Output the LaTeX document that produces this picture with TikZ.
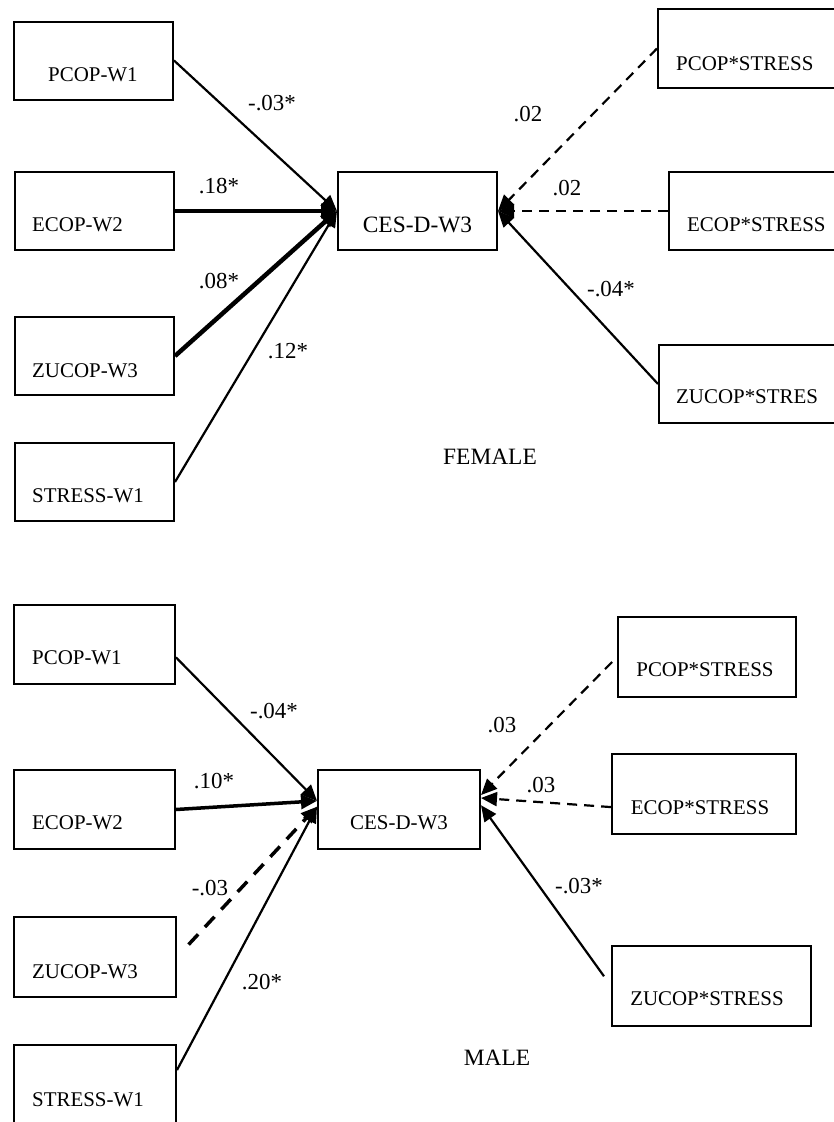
\documentclass[tikz,border=0pt]{standalone}
\usepackage{fontspec}
\setmainfont{Liberation Serif}
\usetikzlibrary{arrows.meta,calc}

\begin{document}
\begin{tikzpicture}[x=1bp,y=-1bp,
  box/.style={draw,line width=2bp,inner sep=0pt,minimum height=78bp},
  vname/.style={font=\fontsize{21}{24}\selectfont,inner sep=0pt},
  coef/.style={font=\fontsize{23}{26}\selectfont,inner sep=0pt},
  group/.style={font=\fontsize{23.5}{27}\selectfont,inner sep=0pt},
  link/.style={line width=2.2bp,-{Triangle[length=16bp,width=14bp]}},
  strong/.style={line width=4.5bp},
  medium/.style={line width=3.5bp},
  dashlink/.style={dash pattern=on 10bp off 7bp},
  bigdash/.style={dash pattern=on 14bp off 10bp}
]
\useasboundingbox (0,0) rectangle (834,1122);
\clip (0,0) rectangle (834,1122);

% ---------------- Female model ----------------
\node[box,minimum width=159bp] (fP) at (93.5,60.5) {};
\node[box,minimum width=159bp] (fE) at (94.5,211) {};
\node[box,minimum width=159bp] (fZ) at (94.5,356) {};
\node[box,minimum width=159bp] (fS) at (94.5,482) {};
\node[box,minimum width=159bp] (fC) at (417.5,211) {};
\node[box,minimum width=180bp,minimum height=79bp] (fPS) at (748,48.5) {};
\node[box,minimum width=180bp] (fES) at (759,211) {};
\node[box,minimum width=180bp] (fZS) at (749,384) {};

\node[vname,anchor=west] (fPt) at (48,75) {PCOP-W1};
\node[vname,anchor=west] (fEt) at (32,225) {ECOP-W2};
\node[vname,anchor=west] (fZt) at (32,371) {ZUCOP-W3};
\node[vname,anchor=west] (fSt) at (32,496) {STRESS-W1};
\node[font=\fontsize{23.5}{27}\selectfont,inner sep=0pt] (fCt) at (417.5,225) {CES-D-W3};
\node[vname,anchor=west] (fPSt) at (676,64) {PCOP*STRESS};
\node[vname,anchor=west] (fESt) at (687,225) {ECOP*STRESS};
\node[vname,anchor=west] (fZSt) at (676,397) {ZUCOP*STRES};

\draw[link] (fP.east) -- (fC.west);
\draw[link,strong] (fE.east) -- (fC.west);
\draw[link,strong] (fZ.east) -- (fC.west);
\draw[link] (fS.east) -- (fC.west);
\draw[link,dashlink] (fPS.west) -- (fC.east);
\draw[link,dashlink] (fES.west) -- (fC.east);
\draw[link] (fZS.west) -- (fC.east);

\node[coef] (fc1) at (272,103) {-.03*};
\node[coef] (fc2) at (219,186) {.18*};
\node[coef] (fc3) at (219,281) {.08*};
\node[coef] (fc4) at (288,351) {.12*};
\node[coef] (fc5) at (528,114) {.02};
\node[coef] (fc6) at (567,188) {.02};
\node[coef] (fc7) at (611,289) {-.04*};
\node[group] (female) at (490,457) {FEMALE};

% ---------------- Male model ----------------
\node[box,minimum width=161bp,minimum height=79bp] (mP) at (94.5,644.5) {};
\node[box,minimum width=161bp,minimum height=79bp] (mE) at (94.5,809.5) {};
\node[box,minimum width=162bp,minimum height=80bp] (mZ) at (95,957) {};
\node[box,minimum width=162bp,minimum height=79bp] (mS) at (95,1084.5) {};
\node[box,minimum width=162bp,minimum height=79bp] (mC) at (399,809.5) {};
\node[box,minimum width=178bp,minimum height=80bp] (mPS) at (707,657) {};
\node[box,minimum width=184bp,minimum height=80bp] (mES) at (704,794) {};
\node[box,minimum width=199bp,minimum height=80bp] (mZS) at (711.5,986) {};

\node[vname,anchor=west] (mPt) at (32,658) {PCOP-W1};
\node[vname,anchor=west] (mEt) at (32,823) {ECOP-W2};
\node[vname,anchor=west] (mZt) at (32,972) {ZUCOP-W3};
\node[vname,anchor=west] (mSt) at (32,1100) {STRESS-W1};
\node[vname] (mCt) at (399,823) {CES-D-W3};
\node[vname] (mPSt) at (705,670) {PCOP*STRESS};
\node[vname] (mESt) at (700,808) {ECOP*STRESS};
\node[vname] (mZSt) at (707,999) {ZUCOP*STRESS};

\draw[link] (mP.-9.5) -- (mC.174);
\draw[link,medium] (mE.east) -- (mC.174);
\draw[link,medium,bigdash,shorten <=17bp] (mZ.east) -- (mC.178);
\draw[link] (mS.10.8) -- (mC.178);
\draw[link,dashlink,shorten <=7bp] (mPS.west) -- (mC.10);
\draw[link,dashlink] (mES.188) -- (mC.8);
\draw[link,shorten <=12bp] (mZS.west) -- (mC.3);

\node[coef] (mc1) at (274,711) {-.04*};
\node[coef] (mc2) at (214,781) {.10*};
\node[coef] (mc3) at (210,888) {-.03};
\node[coef] (mc4) at (262,982) {.20*};
\node[coef] (mc5) at (502,725) {.03};
\node[coef] (mc6) at (541,785) {.03};
\node[coef] (mc7) at (579,886) {-.03*};
\node[group] (male) at (497,1058) {MALE};

\end{tikzpicture}
\end{document}
